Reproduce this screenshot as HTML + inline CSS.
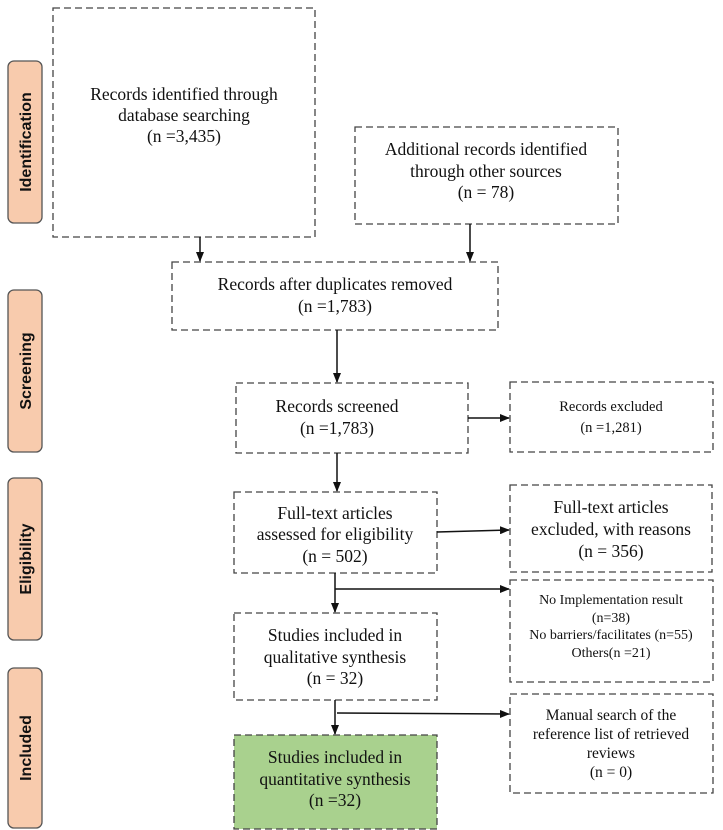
<!DOCTYPE html>
<html><head><meta charset="utf-8"><style>
body{margin:0;background:#fff}
svg{display:block}
text{font-family:"Liberation Serif",serif;fill:#111;font-size:17.5px}
.s{font-family:"Liberation Sans",sans-serif;font-weight:bold;font-size:16px}
.b{fill:none;stroke:#444;stroke-width:1.3;stroke-dasharray:7,4}
.l{stroke:#111;stroke-width:1.5;fill:none}
.side{fill:#f8cbad;stroke:#555;stroke-width:1.3}
</style></head><body>
<svg width="723" height="830" viewBox="0 0 723 830" xmlns="http://www.w3.org/2000/svg">
<defs><marker id="a" markerWidth="10" markerHeight="8" refX="9" refY="4" orient="auto" markerUnits="userSpaceOnUse"><path d="M0,0 L10,4 L0,8 z" fill="#111"/></marker></defs>

<rect class="side" x="8" y="61" width="34" height="162" rx="6"/>
<text class="s" transform="translate(31,142) rotate(-90)" text-anchor="middle">Identification</text>
<rect class="side" x="8" y="290" width="34" height="162" rx="6"/>
<text class="s" transform="translate(31,371) rotate(-90)" text-anchor="middle">Screening</text>
<rect class="side" x="8" y="478" width="34" height="162" rx="6"/>
<text class="s" transform="translate(31,559) rotate(-90)" text-anchor="middle">Eligibility</text>
<rect class="side" x="8" y="668" width="34" height="160" rx="6"/>
<text class="s" transform="translate(31,748) rotate(-90)" text-anchor="middle">Included</text>

<rect class="b" x="53" y="8" width="262" height="229"/>
<text x="184" y="100" text-anchor="middle">Records identified through</text>
<text x="184" y="121" text-anchor="middle">database searching</text>
<text x="184" y="142" text-anchor="middle">(n =3,435)</text>

<rect class="b" x="355" y="127" width="263" height="97"/>
<text x="486" y="155" text-anchor="middle">Additional records identified</text>
<text x="486" y="177" text-anchor="middle">through other sources</text>
<text x="486" y="198" text-anchor="middle">(n = 78)</text>

<rect class="b" x="172" y="262" width="326" height="68"/>
<text x="335" y="290" text-anchor="middle">Records after duplicates removed</text>
<text x="335" y="312" text-anchor="middle">(n =1,783)</text>

<rect class="b" x="236" y="383" width="232" height="70"/>
<text x="337" y="412" text-anchor="middle">Records screened</text>
<text x="337" y="434" text-anchor="middle">(n =1,783)</text>

<rect class="b" x="510" y="382" width="203" height="70"/>
<text x="611" y="411" text-anchor="middle" style="font-size:14.5px">Records excluded</text>
<text x="611" y="432" text-anchor="middle" style="font-size:14.5px">(n =1,281)</text>

<rect class="b" x="234" y="492" width="203" height="81"/>
<text x="335" y="519" text-anchor="middle">Full-text articles</text>
<text x="335" y="540" text-anchor="middle">assessed for eligibility</text>
<text x="335" y="562" text-anchor="middle">(n = 502)</text>

<rect class="b" x="510" y="485" width="202" height="87"/>
<text x="611" y="513" text-anchor="middle">Full-text articles</text>
<text x="611" y="535" text-anchor="middle">excluded, with reasons</text>
<text x="611" y="557" text-anchor="middle">(n = 356)</text>

<rect class="b" x="510" y="580" width="203" height="102"/>
<text x="611" y="604" text-anchor="middle" style="font-size:14px">No Implementation result</text>
<text x="611" y="622" text-anchor="middle" style="font-size:14px">(n=38)</text>
<text x="611" y="639" text-anchor="middle" style="font-size:14px">No barriers/facilitates (n=55)</text>
<text x="611" y="657" text-anchor="middle" style="font-size:14px">Others(n =21)</text>

<rect class="b" x="234" y="613" width="203" height="87"/>
<text x="335" y="641" text-anchor="middle">Studies included in</text>
<text x="335" y="663" text-anchor="middle">qualitative synthesis</text>
<text x="335" y="684" text-anchor="middle">(n = 32)</text>

<rect x="234" y="735" width="203" height="94" fill="#a9d18e"/>
<rect class="b" x="234" y="735" width="203" height="94"/>
<text x="335" y="763" text-anchor="middle">Studies included in</text>
<text x="335" y="785" text-anchor="middle">quantitative synthesis</text>
<text x="335" y="806" text-anchor="middle">(n =32)</text>

<rect class="b" x="510" y="694" width="203" height="99"/>
<text x="611" y="720" text-anchor="middle" style="font-size:15.5px">Manual search of the</text>
<text x="611" y="739" text-anchor="middle" style="font-size:15.5px">reference list of retrieved</text>
<text x="611" y="758" text-anchor="middle" style="font-size:15.5px">reviews</text>
<text x="611" y="777" text-anchor="middle" style="font-size:15.5px">(n = 0)</text>

<line class="l" x1="200" y1="237" x2="200" y2="261" marker-end="url(#a)"/>
<line class="l" x1="470" y1="224" x2="470" y2="261" marker-end="url(#a)"/>
<line class="l" x1="337" y1="330" x2="337" y2="382" marker-end="url(#a)"/>
<line class="l" x1="468" y1="418" x2="509" y2="418" marker-end="url(#a)"/>
<line class="l" x1="337" y1="453" x2="337" y2="491" marker-end="url(#a)"/>
<line class="l" x1="437" y1="532" x2="509" y2="530" marker-end="url(#a)"/>
<line class="l" x1="335" y1="573" x2="335" y2="612" marker-end="url(#a)"/>
<line class="l" x1="335" y1="589" x2="509" y2="589" marker-end="url(#a)"/>
<line class="l" x1="335" y1="700" x2="335" y2="734" marker-end="url(#a)"/>
<line class="l" x1="337" y1="713" x2="509" y2="714" marker-end="url(#a)"/>
</svg>
</body></html>
